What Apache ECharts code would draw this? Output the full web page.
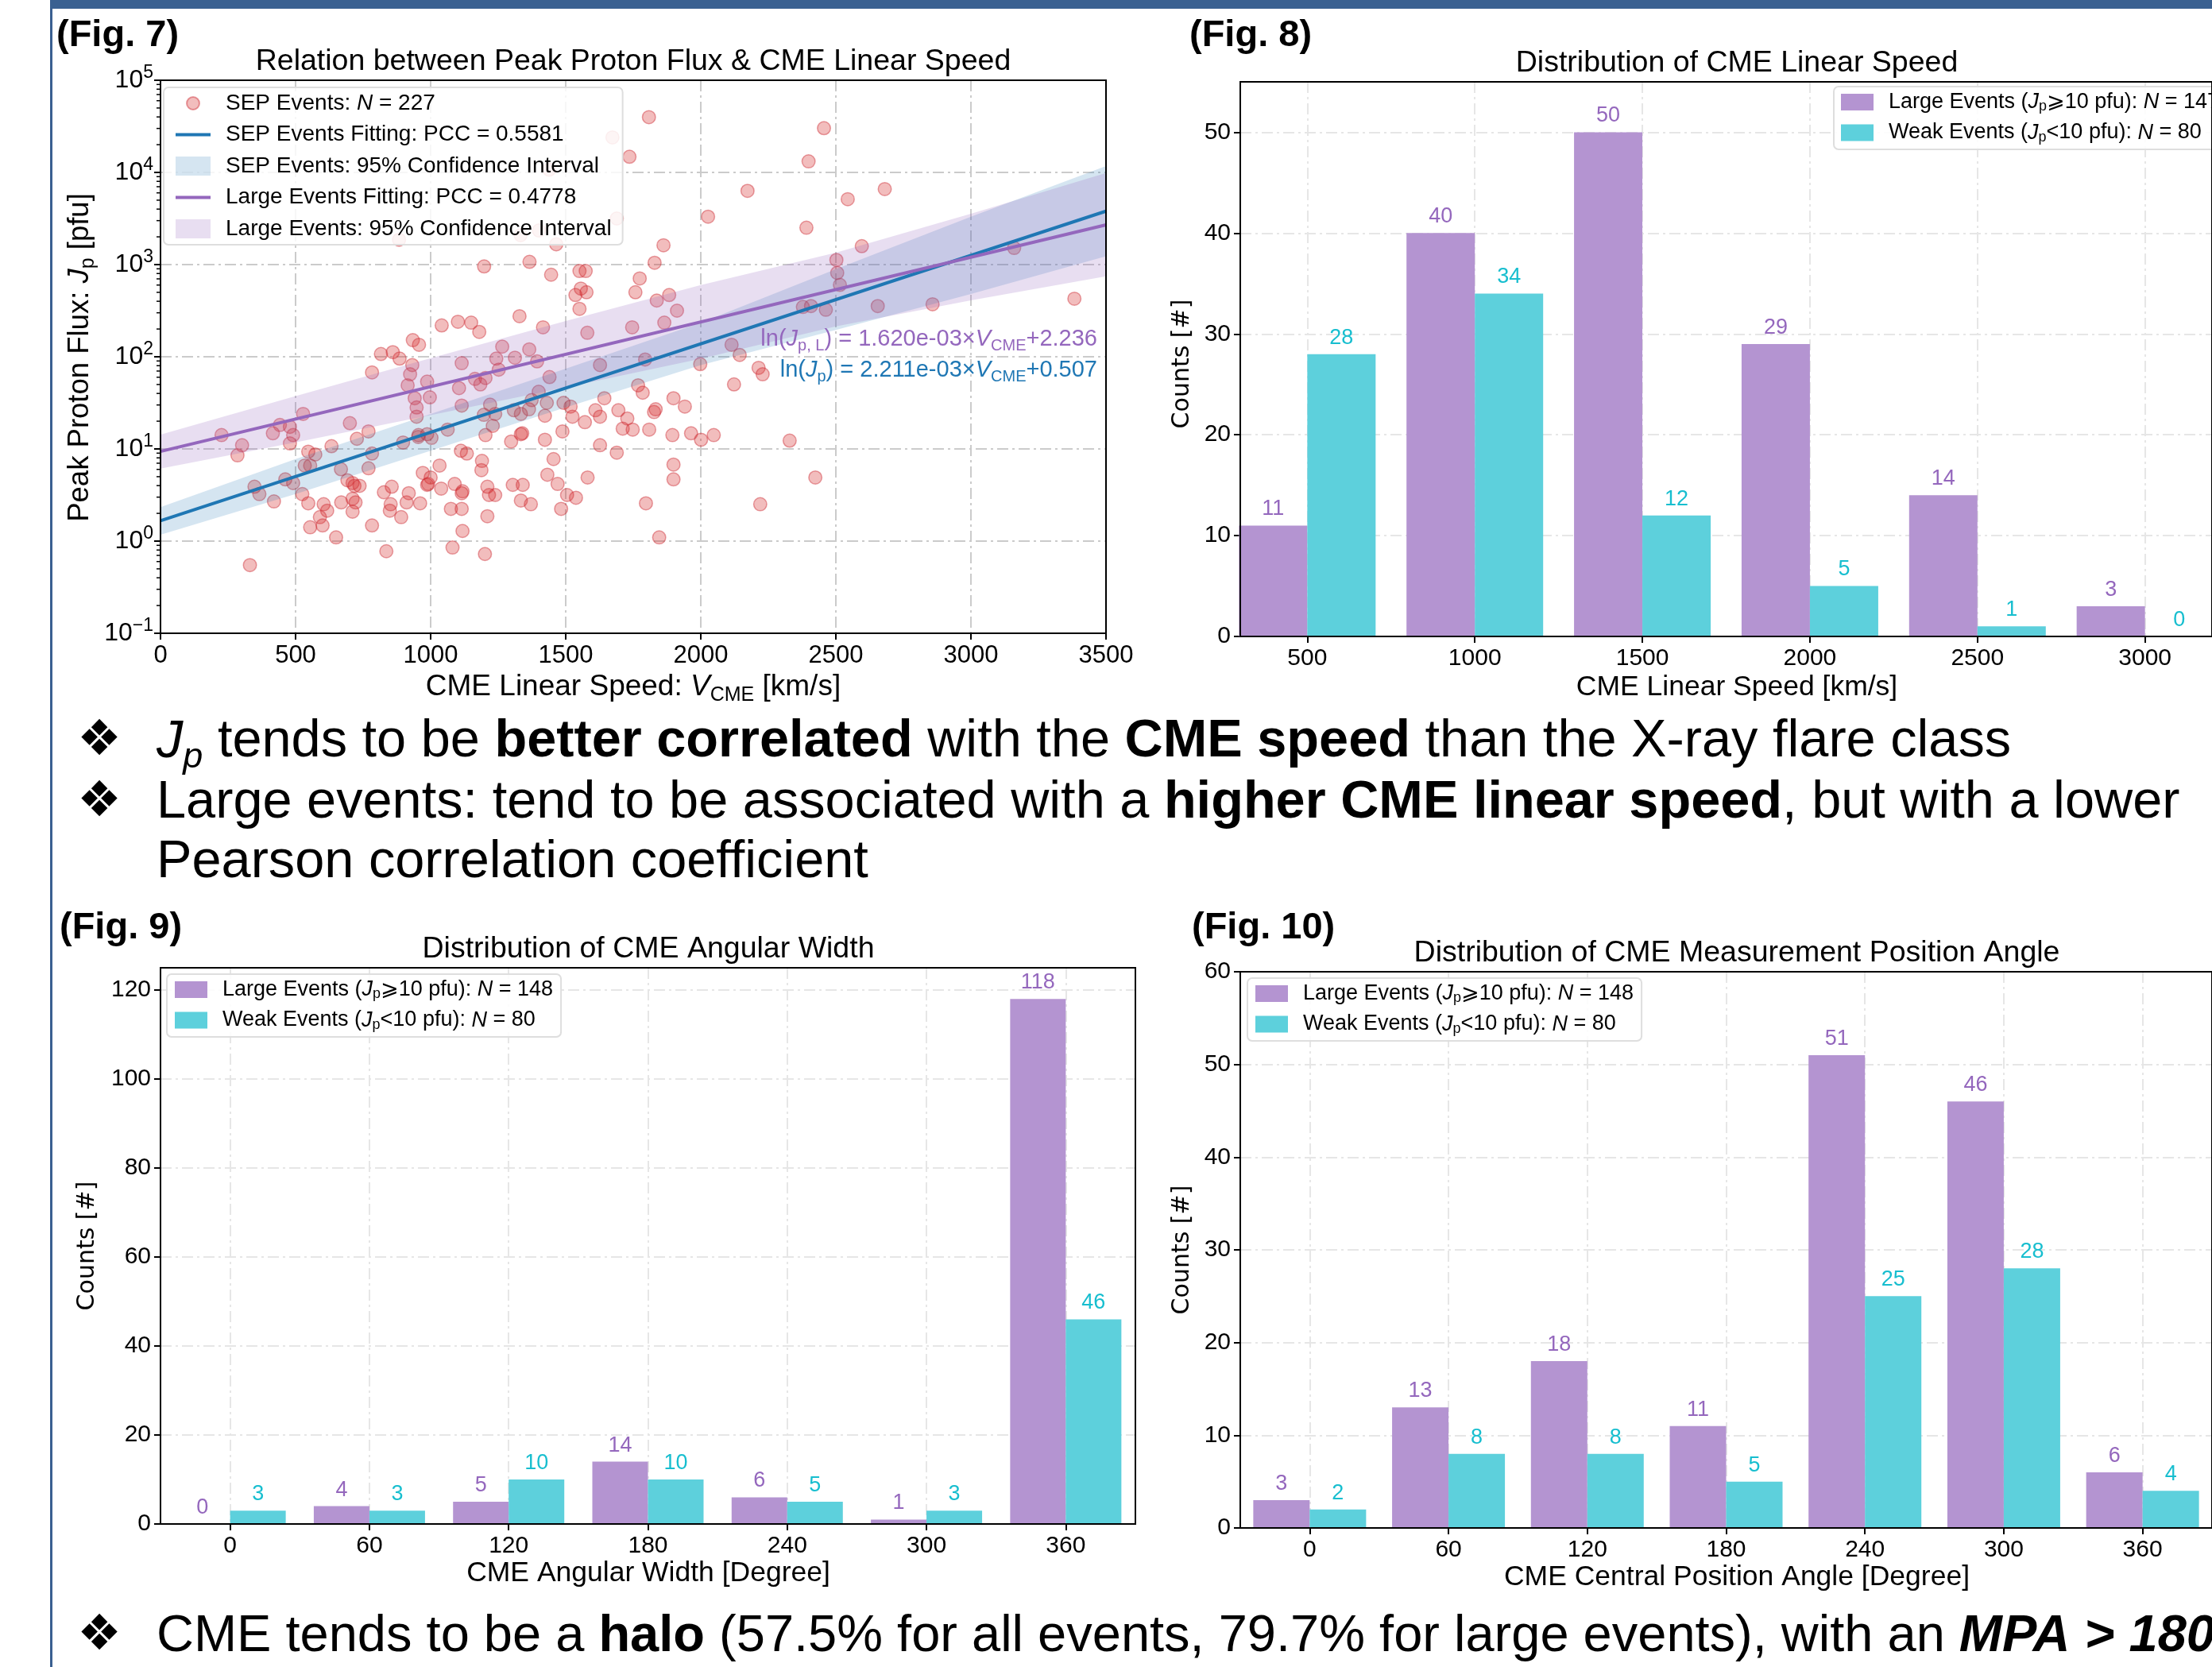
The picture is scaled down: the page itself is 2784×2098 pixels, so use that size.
<!DOCTYPE html>
<html>
<head>
<meta charset="utf-8">
<title>SEP events and CME properties</title>
<script src="https://cdn.jsdelivr.net/npm/echarts@6/dist/echarts.min.js"></script>
<style>
  html, body { margin: 0; padding: 0; background: #fff; }
  #main { width: 2784px; height: 2098px; }
</style>
</head>
<body>
<div id="main"></div>
<script>
const FONT = '"Liberation Sans", Arial, Helvetica, "DejaVu Sans", sans-serif';
const WIDE = '"DejaVu Sans", "Liberation Sans", sans-serif';

// ---- Fig. 7 : peak proton flux vs CME linear speed ----
// speed in km/s, flux read on the log axis as a power of ten (pfu = 10^exp)
const cmeSpeed = [
  1808, 2456, 1673, 1736, 2399, 1439, 2173, 2681, 2544, 1689,
  2027, 2391, 1401, 1333, 883, 1465, 1862, 2596, 3160, 1829,
  1198, 1366, 1446, 2502, 2505, 2515, 1551, 1574, 1774, 1758,
  1536, 1556, 1577, 1837, 1883, 1551, 1912, 1329, 1865, 1041,
  1101, 1150, 1180, 1416, 1746, 1580, 3383, 2858, 2655, 2378,
  2408, 2463, 934, 957, 816, 860, 885, 1265, 1365, 2114,
  2144, 1115, 1243, 1312, 1394, 1794, 1998, 932, 783, 924,
  915, 987, 1105, 1164, 1184, 1203, 1252, 1440, 1627, 2214,
  2229, 2123, 1400, 1374, 1430, 1492, 1518, 1643, 1768, 1785,
  941, 948, 948, 997, 1115, 1220, 1197, 1239, 1308, 1334,
  1364, 1423, 1610, 1627, 1525, 1571, 1695, 1728, 1711, 1748,
  1827, 1833, 1809, 1899, 1941, 1895, 1964, 2001, 2048, 2329,
  1488, 1339, 1334, 1298, 1423, 1627, 1689, 1230, 1203, 1063,
  987, 954, 1003, 898, 770, 727, 701, 783, 633, 573,
  547, 528, 442, 479, 491, 479, 416, 226, 302, 285,
  554, 534, 668, 770, 462, 491, 348, 366, 420, 525,
  547, 692, 711, 737, 718, 711, 722, 669, 711, 604,
  617, 590, 600, 554, 650, 783, 827, 856, 852, 849,
  891, 919, 911, 961, 836, 971, 1000, 991, 987, 1033,
  1039, 1112, 1134, 1089, 1118, 1115, 1075, 1115, 1118, 1081,
  1190, 1188, 1210, 1216, 1239, 1210, 1201, 1304, 1341, 1334,
  1371, 1432, 1455, 1470, 1505, 1538, 1483, 1581, 1797, 1846,
  1899, 1899, 2424, 2220, 331, 955
];
const fluxExp = [
  4.60, 4.48, 4.38, 4.17, 4.12, 4.03, 3.80, 3.82, 3.71, 3.50,
  3.52, 3.40, 3.37, 3.32, 3.27, 3.22, 3.21, 3.20, 3.18, 3.02,
  2.98, 3.03, 2.89, 3.05, 2.91, 2.78, 2.93, 2.93, 2.85, 2.70,
  2.67, 2.74, 2.70, 2.61, 2.67, 2.52, 2.50, 2.44, 2.37, 2.34,
  2.38, 2.37, 2.27, 2.32, 2.32, 2.26, 2.63, 2.57, 2.55, 2.54,
  2.55, 2.51, 2.18, 2.13, 2.03, 2.05, 1.98, 2.11, 2.08, 2.13,
  2.02, 1.93, 1.98, 1.99, 1.95, 1.97, 1.92, 1.91, 1.83, 1.81,
  1.69, 1.73, 1.66, 1.76, 1.70, 1.77, 1.86, 1.78, 1.91, 1.88,
  1.81, 1.70, 1.62, 1.53, 1.50, 1.50, 1.46, 1.55, 1.69, 1.61,
  1.55, 1.45, 1.35, 1.56, 1.47, 1.48, 1.37, 1.38, 1.42, 1.38,
  1.43, 1.36, 1.42, 1.35, 1.35, 1.29, 1.42, 1.33, 1.22, 1.21,
  1.40, 1.43, 1.21, 1.55, 1.46, 1.15, 1.17, 1.10, 1.15, 1.09,
  1.19, 1.17, 1.16, 1.08, 1.10, 1.04, 0.96, 1.25, 1.15, 1.21,
  1.16, 1.13, 1.12, 1.07, 1.19, 1.11, 1.28, 0.95, 1.03, 0.94,
  0.97, 1.38, 1.26, 1.24, 1.15, 1.06, 1.17, 1.15, 1.04, 0.93,
  0.82, 0.82, 0.78, 0.79, 0.67, 0.63, 0.59, 0.51, 0.43, 0.51,
  0.41, 0.66, 0.63, 0.60, 0.60, 0.46, 0.42, 0.42, 0.32, 0.40,
  0.33, 0.26, 0.17, 0.15, 0.04, 0.17, 0.53, 0.59, 0.40, 0.33,
  0.26, 0.52, 0.42, 0.41, -0.11, 0.74, 0.69, 0.62, 0.61, 0.82,
  0.57, 0.98, 0.95, 0.62, 0.54, 0.52, 0.35, 0.35, 0.11, -0.07,
  0.87, 0.77, 0.59, 0.50, 0.50, 0.27, -0.14, 0.61, 0.61, 0.44,
  0.40, 0.72, 0.89, 0.62, 0.50, 0.47, 0.35, 0.69, 0.41, 0.04,
  0.83, 0.67, 0.69, 0.40, -0.26, 1.15
];

// fitted lines, end points (pfu)
const fitSpeed = [0, 3500];
const sepFit = [1.66, 3800];
const largeFit = [9.4, 2700];

// 95% confidence bands (pfu)
const bandSpeed = [0, 500, 1000, 1500, 2000, 2500, 3000, 3500];
const sepLow = [1.17, 3.24, 9.55, 28.2, 81.3, 195, 479, 1230];
const sepHigh = [2.34, 7.76, 24.0, 74.1, 234, 891, 3311, 11750];
const largeLow = [6.11, 11.8, 23.2, 46.5, 95.1, 214, 409, 748];
const largeHigh = [14.3, 37.4, 96.6, 244, 600, 1349, 3565, 9860];

const speedTicks = [0, 500, 1000, 1500, 2000, 2500, 3000, 3500];
const fluxDecades = [-1, 0, 1, 2, 3, 4, 5];

// ---- Fig. 8 : CME linear speed ----
const speedBins = [500, 1000, 1500, 2000, 2500, 3000];
const speedLarge = [11, 40, 50, 29, 14, 3];
const speedWeak = [28, 34, 12, 5, 1, 0];

// ---- Fig. 9 : CME angular width ----
const widthBins = [0, 60, 120, 180, 240, 300, 360];
const widthLarge = [0, 4, 5, 14, 6, 1, 118];
const widthWeak = [3, 3, 10, 10, 5, 3, 46];

// ---- Fig. 10 : CME measurement position angle ----
const mpaBins = [0, 60, 120, 180, 240, 300, 360];
const mpaLarge = [3, 13, 18, 11, 51, 46, 6];
const mpaWeak = [2, 8, 8, 5, 25, 28, 4];

const PURPLE = '#9467bd';
const BLUE = '#1f77b4';
const BAR_PURPLE = '#b494d1';
const BAR_CYAN = '#5dd0dc';
const LABEL_CYAN = '#17becf';

const chart = echarts.init(document.getElementById('main'));

// minor ticks of the log axis (2..9 x 10^k)
const minorFlux = [];
fluxDecades.slice(0, -1).forEach(d => {
  for (let k = 2; k <= 9; k++) minorFlux.push(k * Math.pow(10, d));
});

const gridLine = { show: true, lineStyle: { color: '#cbcbcb', width: 2, type: [14, 5, 3, 5] } };
const faintLine = { show: true, lineStyle: { color: '#e6e6e6', width: 2, type: [14, 5, 3, 5] } };
const tick = { show: true, length: 8, lineStyle: { color: '#000', width: 2 } };
const tickLabel = { color: '#000', fontSize: 30, fontFamily: FONT, formatter: v => String(v) };
const noLine = { show: false, onZero: false };

function frame(left, top, width, height) {
  return { left, top, width, height, show: true, z: 10, borderColor: '#000', borderWidth: 2, backgroundColor: 'transparent' };
}

function barX(gi, min, max, bins) {
  return {
    gridIndex: gi, type: 'value', min, max,
    axisLine: noLine,
    axisTick: Object.assign({ customValues: bins }, tick),
    axisLabel: Object.assign({ customValues: bins, margin: 13 }, tickLabel),
    splitLine: faintLine
  };
}
function barY(gi, max, interval) {
  return {
    gridIndex: gi, type: 'value', min: 0, max, interval,
    axisLine: noLine,
    axisTick: tick,
    axisLabel: Object.assign({ margin: 12, showMaxLabel: max % interval === 0 }, tickLabel),
    splitLine: faintLine
  };
}
function bars(name, gi, bins, vals, color, labelColor, width) {
  return {
    type: 'bar', name, xAxisIndex: gi, yAxisIndex: gi,
    data: bins.map((b, i) => [b, vals[i]]),
    barWidth: width, barGap: '0%',
    itemStyle: { color },
    label: { show: true, position: 'top', distance: 7, color: labelColor, fontSize: 27, fontFamily: FONT },
    z: 3
  };
}
function band(name, low, high, color) {
  return {
    type: 'custom', name, xAxisIndex: 0, yAxisIndex: 0,
    data: [[bandSpeed[0], low[0]]],
    itemStyle: { color },
    renderItem: (params, api) => {
      const up = bandSpeed.map((s, i) => api.coord([s, high[i]]));
      const lo = bandSpeed.map((s, i) => api.coord([s, low[i]])).reverse();
      return { type: 'polygon', shape: { points: up.concat(lo) }, style: { fill: api.visual('color') } };
    },
    silent: true, z: 3
  };
}

function legRich(size) {
  return {
    g: { width: 14 },
    t: { fontSize: size, fontFamily: FONT, lineHeight: 30, color: '#000' },
    i: { fontSize: size, fontFamily: FONT, fontStyle: 'italic', lineHeight: 30, color: '#000' },
    s: { fontSize: Math.round(size * 0.68), fontFamily: FONT, lineHeight: 14, verticalAlign: 'bottom', color: '#000' }
  };
}
const legendText = {
  sep: '{g| }{t|SEP Events: }{i|N}{t| = 227}',
  sepFit: '{g| }{t|SEP Events Fitting: PCC = 0.5581}',
  sepCI: '{g| }{t|SEP Events: 95% Confidence Interval}',
  largeFit: '{g| }{t|Large Events Fitting: PCC = 0.4778}',
  largeCI: '{g| }{t|Large Events: 95% Confidence Interval}',
  L8: '{g| }{t|Large Events (}{i|J}{s|p}{t|⩾10 pfu): }{i|N}{t| = 147}',
  W8: '{g| }{t|Weak Events (}{i|J}{s|p}{t|<10 pfu): }{i|N}{t| = 80}',
  L9: '{g| }{t|Large Events (}{i|J}{s|p}{t|⩾10 pfu): }{i|N}{t| = 148}',
  W9: '{g| }{t|Weak Events (}{i|J}{s|p}{t|<10 pfu): }{i|N}{t| = 80}',
  L10: '{g| }{t|Large Events (}{i|J}{s|p}{t|⩾10 pfu): }{i|N}{t| = 148}',
  W10: '{g| }{t|Weak Events (}{i|J}{s|p}{t|<10 pfu): }{i|N}{t| = 80}'
};
function legendBox(left, top, data, iw, ih, gap, pad, size) {
  return {
    left, top, orient: 'vertical', data, selectedMode: false,
    itemWidth: iw, itemHeight: ih, itemGap: gap, padding: pad,
    backgroundColor: 'rgba(255,255,255,0.85)', borderColor: '#dedede', borderWidth: 2, borderRadius: 6,
    formatter: name => legendText[name],
    textStyle: { rich: legRich(size) }
  };
}
const LINE_ICON = 'path://M0,0H44V4H0Z';
// small marker centred in a 44x24 box
const DOT_ICON = 'path://M0,0M44,24M14,12A8,8,0,1,1,30,12A8,8,0,1,1,14,12Z';

// ---- text helpers ----
function rich(size) {
  const sub = Math.round(size * 0.68);
  const lh = Math.round(size * 1.25);
  return {
    n: { fontSize: size, fontFamily: FONT, lineHeight: lh },
    b: { fontSize: size, fontFamily: FONT, fontWeight: 'bold', lineHeight: lh },
    i: { fontSize: size, fontFamily: FONT, fontStyle: 'italic', lineHeight: lh },
    bi: { fontSize: size, fontFamily: FONT, fontStyle: 'italic', fontWeight: 'bold', lineHeight: lh },
    s: { fontSize: sub, fontFamily: FONT, lineHeight: Math.round(size * 0.75), verticalAlign: 'bottom' },
    is: { fontSize: sub, fontFamily: FONT, fontStyle: 'italic', lineHeight: Math.round(size * 0.75), verticalAlign: 'bottom' }
  };
}
function label(x, y, text, size, opts) {
  opts = opts || {};
  return {
    type: 'text', x, y, rotation: opts.rot || 0, z: 100,
    style: {
      text, fontSize: size, fontFamily: opts.family || FONT, fontWeight: opts.weight || 'normal',
      fill: opts.color || '#000', align: opts.align || 'center', verticalAlign: 'middle',
      rich: opts.rich
    }
  };
}
function eq(y, text, color) {
  const r = rich(29);
  Object.keys(r).forEach(k => { r[k].fill = color; });
  return label(1381, y, text, 29, { align: 'right', color, rich: r });
}

const BODY = 66.7;
const graphics = [
  { type: 'rect', shape: { x: 64, y: 0, width: 2720, height: 11 }, style: { fill: '#3a6091' }, z: 100 },
  { type: 'rect', shape: { x: 63, y: 0, width: 3, height: 2098 }, style: { fill: '#3a6091' }, z: 100 },

  label(71, 45, '(Fig. 7)', 47, { weight: 'bold', align: 'left' }),
  label(797, 78, 'Relation between Peak Proton Flux & CME Linear Speed', 37.5),
  label(101, 450, '{n|Peak Proton Flux: }{i|J}{s|p}{n| [pfu]}', 36.5, { rot: Math.PI / 2, rich: rich(36.5) }),
  label(797, 865, '{n|CME Linear Speed: }{i|V}{s|CME}{n| [km/s]}', 37, { rich: rich(37) }),
  eq(427, '{n|ln(}{i|J}{s|p, L}{n|) = 1.620e-03×}{i|V}{s|CME}{n|+2.236}', PURPLE),
  eq(466, '{n|ln(}{i|J}{s|p}{n|) = 2.211e-03×}{i|V}{s|CME}{n|+0.507}', BLUE),

  label(1497, 45, '(Fig. 8)', 47, { weight: 'bold', align: 'left' }),
  label(2186, 80, 'Distribution of CME Linear Speed', 37.5),
  label(1488, 458, 'Counts [#]', 30, { rot: Math.PI / 2, family: WIDE }),
  label(2186, 865, 'CME Linear Speed [km/s]', 35.5),

  label(125, 934, '❖', 62, { family: WIDE }),
  label(197, 934, '{i|J}{is|p}{n| tends to be }{b|better correlated}{n| with the }{b|CME speed}{n| than the X-ray flare class}', BODY, { align: 'left', rich: rich(BODY) }),
  label(125, 1011, '❖', 62, { family: WIDE }),
  label(197, 1011, '{n|Large events: tend to be associated with a }{b|higher CME linear speed}{n|, but with a lower}', BODY, { align: 'left', rich: rich(BODY) }),
  label(197, 1086, 'Pearson correlation coefficient', BODY, { align: 'left' }),

  label(75, 1168, '(Fig. 9)', 47, { weight: 'bold', align: 'left' }),
  label(816, 1195, 'Distribution of CME Angular Width', 37.5),
  label(110, 1568, 'Counts [#]', 30, { rot: Math.PI / 2, family: WIDE }),
  label(816, 1980, 'CME Angular Width [Degree]', 35.5),

  label(1500, 1168, '(Fig. 10)', 47, { weight: 'bold', align: 'left' }),
  label(2186, 1200, 'Distribution of CME Measurement Position Angle', 37.5),
  label(1488, 1573, 'Counts [#]', 30, { rot: Math.PI / 2, family: WIDE }),
  label(2186, 1985, 'CME Central Position Angle [Degree]', 35.5),

  label(125, 2060, '❖', 62, { family: WIDE }),
  label(197, 2060, '{n|CME tends to be a }{b|halo}{n| (57.5% for all events, 79.7% for large events), with an }{bi|MPA > 180°}', 65, { align: 'left', rich: rich(65) })
];

const option = {
  animation: false,
  backgroundColor: '#fff',
  grid: [
    frame(202, 101, 1190, 696),
    frame(1561, 103, 1246, 698),
    frame(202, 1218, 1227, 700),
    frame(1561, 1223, 1246, 700)
  ],
  xAxis: [
    {
      gridIndex: 0, type: 'value', min: speedTicks[0], max: speedTicks[speedTicks.length - 1], interval: 500,
      axisLine: noLine, axisTick: tick,
      axisLabel: Object.assign({ margin: 13 }, tickLabel, { fontSize: 31 }),
      splitLine: gridLine
    },
    barX(1, 300, 3200, speedBins),
    barX(2, -30, 390, widthBins),
    barX(3, -30, 390, mpaBins)
  ],
  yAxis: [
    {
      gridIndex: 0, type: 'log', logBase: 10, min: Math.pow(10, fluxDecades[0]), max: Math.pow(10, fluxDecades[fluxDecades.length - 1]),
      splitNumber: 6,
      axisLine: noLine, axisTick: tick,
      axisLabel: {
        margin: 9, color: '#000',
        formatter: v => {
          const e = Math.round(Math.log10(v));
          return '{b|10}{e|' + (e < 0 ? '−' + (-e) : e) + '}';
        },
        rich: {
          b: { fontSize: 32, fontFamily: FONT, lineHeight: 42, color: '#000' },
          e: { fontSize: 23, fontFamily: FONT, lineHeight: 20, verticalAlign: 'top', color: '#000' }
        }
      },
      splitLine: gridLine
    },
    barY(1, 55, 10),
    barY(2, 125, 20),
    barY(3, 60, 10)
  ],
  legend: [
    legendBox(206, 110, [
      { name: 'sep', icon: DOT_ICON }, { name: 'sepFit', icon: LINE_ICON }, { name: 'sepCI', icon: 'rect' },
      { name: 'largeFit', icon: LINE_ICON }, { name: 'largeCI', icon: 'rect' }
    ], 44, 24, 11.5, [6, 14, 6, 14], 28),
    legendBox(2308, 109, [{ name: 'L8', icon: 'rect' }, { name: 'W8', icon: 'rect' }], 41, 21, 10, [6, 10, 6, 9], 27),
    legendBox(210, 1226, [{ name: 'L9', icon: 'rect' }, { name: 'W9', icon: 'rect' }], 41, 21, 10, [6, 10, 6, 10], 27),
    legendBox(1570, 1231, [{ name: 'L10', icon: 'rect' }, { name: 'W10', icon: 'rect' }], 41, 21, 10, [6, 10, 6, 10], 27)
  ],
  graphic: { elements: graphics },
  series: [
    {
      type: 'scatter', name: 'sep', xAxisIndex: 0, yAxisIndex: 0,
      data: cmeSpeed.map((s, i) => [s, Math.pow(10, fluxExp[i])]),
      symbolSize: 16.5,
      itemStyle: { color: 'rgba(214,39,40,0.38)', borderColor: 'rgba(205,40,50,0.55)', borderWidth: 1.5 },
      z: 2
    },
    band('sepCI', sepLow, sepHigh, 'rgba(31,119,180,0.19)'),
    band('largeCI', largeLow, largeHigh, 'rgba(148,103,189,0.22)'),
    {
      type: 'line', name: 'sepFit', xAxisIndex: 0, yAxisIndex: 0,
      data: fitSpeed.map((s, i) => [s, sepFit[i]]),
      symbol: 'none', lineStyle: { color: BLUE, width: 4 }, itemStyle: { color: BLUE }, z: 4
    },
    {
      type: 'line', name: 'largeFit', xAxisIndex: 0, yAxisIndex: 0,
      data: fitSpeed.map((s, i) => [s, largeFit[i]]),
      symbol: 'none', lineStyle: { color: PURPLE, width: 4 }, itemStyle: { color: PURPLE }, z: 4
    },
    {
      type: 'custom', name: 'minor', xAxisIndex: 0, yAxisIndex: 0, silent: true,
      data: minorFlux.map(v => [speedTicks[0], v]),
      renderItem: (params, api) => {
        const p = api.coord([api.value(0), api.value(1)]);
        return { type: 'line', shape: { x1: p[0] - 5, y1: p[1], x2: p[0], y2: p[1] }, style: { stroke: '#000', lineWidth: 1.5 } };
      },
      clip: false, z: 5
    },
    bars('L8', 1, speedBins, speedLarge, BAR_PURPLE, PURPLE, 86),
    bars('W8', 1, speedBins, speedWeak, BAR_CYAN, LABEL_CYAN, 86),
    bars('L9', 2, widthBins, widthLarge, BAR_PURPLE, PURPLE, 70),
    bars('W9', 2, widthBins, widthWeak, BAR_CYAN, LABEL_CYAN, 70),
    bars('L10', 3, mpaBins, mpaLarge, BAR_PURPLE, PURPLE, 71),
    bars('W10', 3, mpaBins, mpaWeak, BAR_CYAN, LABEL_CYAN, 71)
  ]
};

chart.setOption(option);
window.addEventListener('resize', () => chart.resize());
</script>
</body>
</html>
